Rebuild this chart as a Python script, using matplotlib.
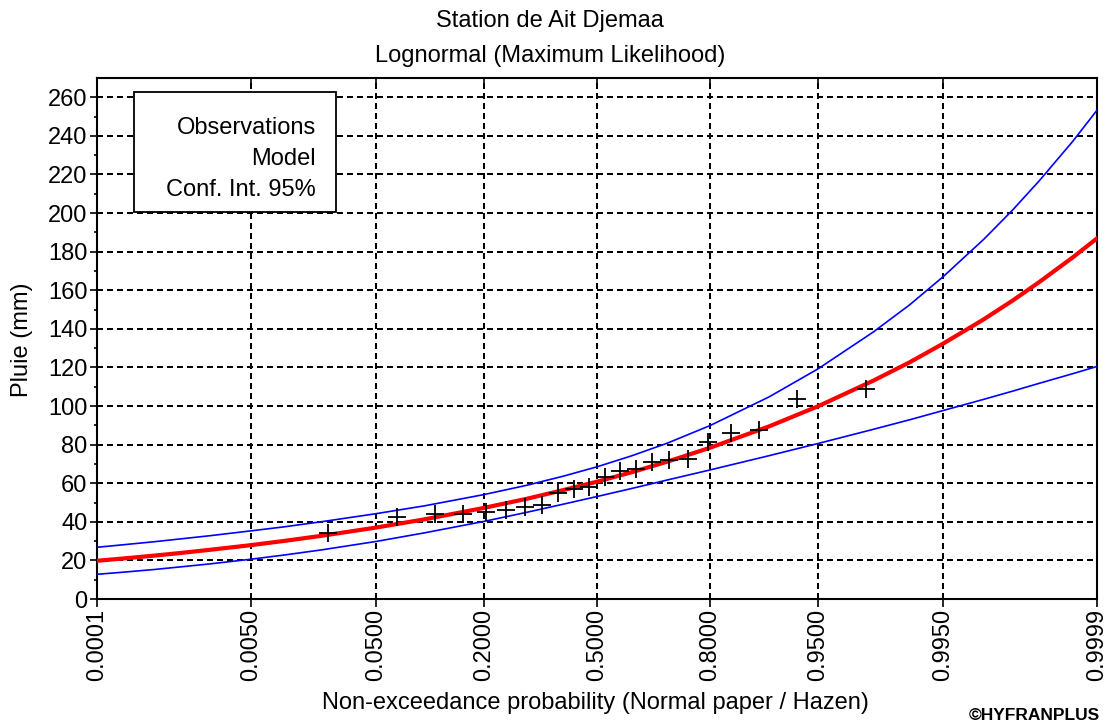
import matplotlib
matplotlib.use("Agg")
import matplotlib.pyplot as plt
from matplotlib import font_manager
from matplotlib.patches import Rectangle
from statistics import NormalDist

# ---------------- data ----------------
tick_probs = [0.0001, 0.0050, 0.0500, 0.2000, 0.5000, 0.8000, 0.9500, 0.9950, 0.9999]

obs_prob = [0.0227, 0.0682, 0.1136, 0.1591, 0.2045, 0.2500, 0.2955, 0.3409, 0.3864,
            0.4318, 0.4773, 0.5227, 0.5682, 0.6136, 0.6591, 0.7045, 0.7500, 0.7955,
            0.8409, 0.8864, 0.9318, 0.9773]
obs_rain = [34, 42.5, 44, 44, 45, 46, 47.5, 48.5, 55, 57, 58, 63, 66.5, 67.5, 71, 72,
            72.5, 81.5, 86, 87.5, 103.5, 109]

model_prob = [0.0001, 0.0002, 0.0005, 0.001, 0.002, 0.005, 0.01, 0.02, 0.05, 0.1, 0.2,
              0.3, 0.4, 0.5, 0.6, 0.7, 0.8, 0.9, 0.95, 0.98, 0.99, 0.995, 0.998, 0.999,
              0.9995, 0.9998, 0.9999]
model_rain = [19.8, 20.9, 22.5, 23.9, 25.5, 27.9, 30.1, 32.7, 37.0, 41.3, 47.2, 51.9,
              56.4, 60.8, 65.6, 71.2, 78.4, 89.5, 99.9, 113.1, 122.7, 132.4, 145.0,
              154.6, 164.3, 177.1, 186.9]
upper_rain = [26.8, 28.0, 29.7, 31.2, 32.8, 35.3, 37.4, 40.0, 44.2, 48.3, 54.1, 58.9,
              63.6, 68.5, 74.1, 80.8, 89.9, 104.8, 119.3, 138.3, 152.5, 167.1, 186.5,
              201.5, 216.8, 237.3, 253.3]
lower_rain = [12.8, 13.8, 15.3, 16.7, 18.2, 20.6, 22.8, 25.4, 29.8, 34.3, 40.2, 44.9,
              49.1, 53.1, 57.2, 61.7, 66.9, 74.3, 80.6, 87.9, 92.9, 97.7, 103.5, 107.7,
              111.8, 116.8, 120.5]

legend_labels = ["Observations", "Model", "Conf. Int. 95%"]

# ---------------- fonts ----------------
names = {f.name for f in font_manager.fontManager.ttflist}
if "Liberation Sans Narrow" in names:
    FAM, FS = "Liberation Sans Narrow", 20.5
else:
    FAM, FS = "Liberation Sans", 17
plt.rcParams["font.family"] = [FAM, "DejaVu Sans"]

nd = NormalDist()
def zz(p):
    return nd.inv_cdf(p)

W, H = 1110, 725
fig = plt.figure(figsize=(W / 100, H / 100), dpi=100)

def fx(px):
    return px / W
def fy(py):
    return 1 - py / H

L, R, T, B = 97, 1097, 78, 599
ax = fig.add_axes([fx(L), fy(B), fx(R) - fx(L), fy(T) - fy(B)])

# curves
ax.plot([zz(p) for p in model_prob], upper_rain, color="#0000ff", lw=1.2, zorder=3)
ax.plot([zz(p) for p in model_prob], lower_rain, color="#0000ff", lw=1.2, zorder=3)
ax.plot([zz(p) for p in model_prob], model_rain, color="#ff0000", lw=3.0, zorder=4)
ax.plot([zz(p) for p in obs_prob], obs_rain, linestyle="none", marker="+",
        markersize=13, markeredgewidth=1.3, color="black", zorder=5)

ax.set_xlim(zz(tick_probs[0]), zz(tick_probs[-1]))
ax.set_ylim(0, 270)

ax.set_xticks([zz(p) for p in tick_probs])
ax.set_xticklabels([f"{p:.4f}" for p in tick_probs], rotation=90, fontsize=FS)
ax.set_yticks(range(0, 261, 20))
ax.set_yticks(range(10, 261, 20), minor=True)
ax.tick_params(axis="y", which="major", direction="out", length=5, width=1.2,
               labelsize=FS, pad=2)
ax.tick_params(axis="y", which="minor", direction="out", length=2.5, width=1.2)
ax.tick_params(axis="x", which="major", direction="out", length=6, width=1.2, pad=1)
ax.tick_params(axis="x", which="minor", bottom=False, top=False)

# top inward ticks
for p in tick_probs[1:-1]:
    ax.plot([zz(p), zz(p)], [270, 270 - 3.6], color="black", lw=1.2, zorder=6,
            clip_on=False)

ax.grid(True, which="major", color="black", linestyle=(0, (2.6, 2.2)), lw=1.4,
        antialiased=False)
ax.set_axisbelow(True)
for s in ax.spines.values():
    s.set_linewidth(1.5)

# legend box
lx0, ly0, lx1, ly1 = 134, 92, 336, 212
fig.patches.append(Rectangle((fx(lx0), fy(ly1)), fx(lx1) - fx(lx0), fy(ly0) - fy(ly1),
                             transform=fig.transFigure, facecolor="white",
                             edgecolor="black", lw=1.3, zorder=10))
for lab, yy in zip(legend_labels, [128, 159, 190]):
    fig.text(fx(316), fy(yy), lab, ha="right", va="center", fontsize=FS, zorder=11)

# titles and labels
fig.text(fx(550), fy(21), "Station de Ait Djemaa", ha="center", va="center", fontsize=FS)
fig.text(fx(550), fy(56), "Lognormal (Maximum Likelihood)", ha="center", va="center",
         fontsize=FS)
fig.text(fx(595), fy(703), "Non-exceedance probability (Normal paper / Hazen)",
         ha="center", va="center", fontsize=FS)
fig.text(fx(22), fy(340), "Pluie (mm)", ha="center", va="center", rotation=90,
         fontsize=FS)
fig.text(fx(1100), fy(716), "©HYFRANPLUS", ha="right", va="center", fontsize=12.5,
         fontweight="bold", family=["Liberation Sans", "DejaVu Sans"])

fig.savefig("out.png", dpi=100)
